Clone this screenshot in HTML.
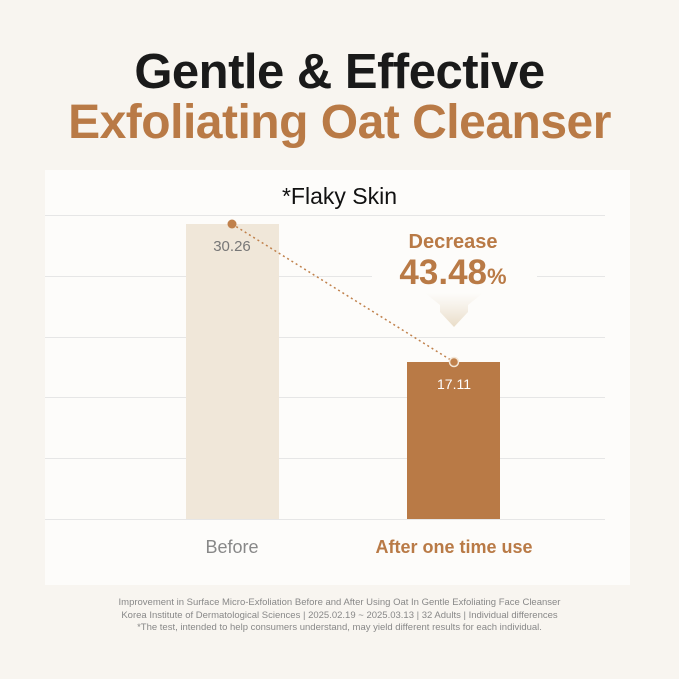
<!DOCTYPE html>
<html><head><meta charset="utf-8"><style>
body{margin:0;width:679px;height:679px;background:#f8f5f0;font-family:"Liberation Sans",sans-serif;position:relative;overflow:hidden}
.t{position:absolute;left:0;width:679px;text-align:center;white-space:nowrap}
</style></head><body>
<div class="t" style="top:44px;font-size:49px;font-weight:bold;color:#1a1a1a;letter-spacing:-0.5px">Gentle &amp; Effective</div>
<div class="t" style="top:95px;font-size:48px;font-weight:bold;color:#b97a46;letter-spacing:-0.5px">Exfoliating Oat Cleanser</div>
<div style="position:absolute;left:45px;top:170px;width:585px;height:415px;background:#fdfcfa"></div>
<svg width="679" height="679" style="position:absolute;left:0;top:0">
<defs><linearGradient id="g" x1="0" y1="0" x2="0" y2="1"><stop offset="0" stop-color="#ede3d3" stop-opacity="0"/><stop offset="1" stop-color="#e9dcc7"/></linearGradient></defs>
<g stroke="#e6e6e6" stroke-width="1">
<line x1="45" y1="215.5" x2="605" y2="215.5"/><line x1="45" y1="276.5" x2="605" y2="276.5"/><line x1="45" y1="337.5" x2="605" y2="337.5"/><line x1="45" y1="397.5" x2="605" y2="397.5"/><line x1="45" y1="458.5" x2="605" y2="458.5"/><line x1="45" y1="519.5" x2="605" y2="519.5"/>
</g>
<rect x="372" y="228" width="165" height="60" fill="#fdfcfa"/>
<rect x="186" y="224" width="93" height="295" fill="#f0e7d9"/>
<rect x="407" y="362" width="93" height="157" fill="#b97a46"/>
<path d="M425 293 H483 L468 305 V312 L454 327 L440 312 V305 Z" fill="url(#g)"/>
<line x1="232" y1="224" x2="454" y2="362" stroke="#c0814c" stroke-width="1.5" stroke-dasharray="2,3"/>
<circle cx="232" cy="224" r="4.5" fill="#c0814c"/>
<circle cx="454" cy="362" r="4.5" fill="#c0814c" stroke="#f3e6d6" stroke-width="1.5"/>
<text x="232" y="251" text-anchor="middle" font-size="15" fill="#777">30.26</text>
<text x="454" y="389" text-anchor="middle" font-size="14" fill="#fff">17.11</text>
<text x="453" y="248" text-anchor="middle" font-size="20" font-weight="bold" fill="#b97a46">Decrease</text>
<text x="453" y="284" text-anchor="middle" font-size="35" font-weight="bold" fill="#b97a46">43.48<tspan font-size="22">%</tspan></text>
</svg>
<div class="t" style="top:183px;font-size:23px;color:#111">*Flaky Skin</div>
<div style="position:absolute;left:132px;width:200px;text-align:center;top:537px;font-size:18px;color:#888">Before</div>
<div style="position:absolute;left:354px;width:200px;text-align:center;top:537px;font-size:18px;font-weight:bold;color:#b97a46">After one time use</div>
<div class="t" style="top:597px;font-size:9.5px;line-height:12.5px;color:#888">Improvement in Surface Micro-Exfoliation Before and After Using Oat In Gentle Exfoliating Face Cleanser<br>Korea Institute of Dermatological Sciences | 2025.02.19 ~ 2025.03.13 | 32 Adults | Individual differences<br>*The test, intended to help consumers understand, may yield different results for each individual.</div>
</body></html>
